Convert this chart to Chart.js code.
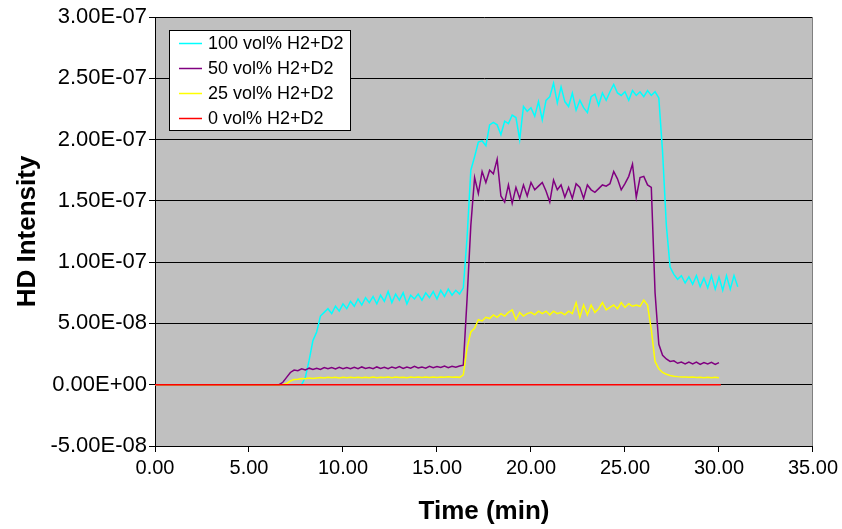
<!DOCTYPE html>
<html>
<head>
<meta charset="utf-8">
<script src="https://cdn.jsdelivr.net/npm/chart.js@4.4.1/dist/chart.umd.min.js"></script>
<style>
  html, body { margin: 0; padding: 0; background: #ffffff; }
  #wrap { position: relative; width: 842px; height: 529px; }
</style>
</head>
<body>
<div id="wrap"><canvas id="c" width="842" height="529"></canvas></div>
<script>
// ---- DATA (time in minutes; intensities in units of 1E-08) ----
const timeMin = [0,
  6.6, 6.8, 7.0, 7.2, 7.4, 7.6, 7.8, 8.0, 8.2, 8.4,
  8.6, 8.8, 9.0, 9.2, 9.4, 9.6, 9.8, 10.0, 10.2, 10.4,
  10.6, 10.8, 11.0, 11.2, 11.4, 11.6, 11.8, 12.0, 12.2, 12.4,
  12.6, 12.8, 13.0, 13.2, 13.4, 13.6, 13.8, 14.0, 14.2, 14.4,
  14.6, 14.8, 15.0, 15.2, 15.4, 15.6, 15.8, 16.0, 16.2, 16.4,
  16.6, 16.8, 17.0, 17.2, 17.4, 17.6, 17.8, 18.0, 18.2, 18.4,
  18.6, 18.8, 19.0, 19.2, 19.4, 19.6, 19.8, 20.0, 20.2, 20.4,
  20.6, 20.8, 21.0, 21.2, 21.4, 21.6, 21.8, 22.0, 22.2, 22.4,
  22.6, 22.8, 23.0, 23.2, 23.4, 23.6, 23.8, 24.0, 24.2, 24.4,
  24.6, 24.8, 25.0, 25.2, 25.4, 25.6, 25.8, 26.0, 26.2, 26.4,
  26.6, 26.8, 27.0, 27.2, 27.4, 27.6, 27.8, 28.0, 28.2, 28.4,
  28.6, 28.8, 29.0, 29.2, 29.4, 29.6, 29.8, 30.0, 30.2, 30.4,
  30.6, 30.8, 31.0];

const hd100 = [0,
  0, 0, 0, 0, 0, 0, 0, 0.6, 2.0, 3.6,
  4.3, 5.6, 5.9, 6.2, 5.8, 6.4, 6.0, 6.6, 6.2, 6.8,
  6.4, 7.0, 6.5, 7.1, 6.7, 7.2, 6.6, 7.3, 6.8, 7.6,
  6.7, 7.4, 6.9, 7.5, 6.6, 7.3, 7.0, 7.4, 6.9, 7.5,
  7.1, 7.6, 7.0, 7.7, 7.2, 7.8, 7.3, 7.7, 7.4, 7.9,
  12.0, 17.5, 18.6, 19.8, 19.9, 19.5, 21.2, 21.4, 21.2, 20.4,
  21.5, 21.3, 22.0, 21.8, 20.0, 22.7, 22.3, 22.6, 21.9, 23.1,
  21.6, 23.2, 23.5, 24.6, 23.0, 24.3, 23.1, 22.7, 23.8, 22.4,
  23.2, 22.6, 22.2, 23.5, 23.7, 22.8, 23.8, 23.2, 23.9, 24.5,
  23.8, 23.6, 23.9, 23.2, 24.0, 23.6, 23.9, 23.5, 24.0, 23.6,
  23.9, 23.4, 19.0, 13.0, 9.6, 9.0, 8.6, 8.9, 8.3, 8.8,
  8.2, 8.9, 8.0, 8.7, 7.9, 8.9, 7.8, 8.8, 7.7, 8.9,
  7.8, 8.9, 8.0];

const hd50 = [0,
  0, 0.2, 0.6, 1.0, 1.2, 1.15, 1.3, 1.2, 1.35, 1.25,
  1.35, 1.25, 1.4, 1.3, 1.4, 1.28, 1.42, 1.3, 1.4, 1.3,
  1.42, 1.3, 1.45, 1.32, 1.4, 1.3, 1.45, 1.33, 1.42, 1.3,
  1.45, 1.35, 1.48, 1.32, 1.45, 1.35, 1.5, 1.36, 1.45, 1.35,
  1.5, 1.38, 1.48, 1.4, 1.52, 1.38, 1.5, 1.42, 1.52, 1.6,
  7.0, 13.0, 16.9, 15.6, 17.4, 16.5, 17.5, 17.2, 18.4, 15.4,
  14.9, 16.3, 14.8, 16.1, 15.2, 16.3, 15.4, 16.5, 15.9, 16.2,
  16.5, 15.8, 14.9, 16.7, 15.9, 16.3, 15.3, 16.1, 15.2, 16.4,
  16.1, 15.2, 16.3, 15.9, 15.7, 16.0, 16.3, 16.2, 16.4, 17.4,
  16.8, 15.9, 16.4, 17.0, 18.0, 15.3, 16.9, 17.0, 16.3, 16.1,
  7.5, 3.3, 2.4, 2.1, 1.9, 1.95, 1.75, 1.85, 1.7, 1.85,
  1.7, 1.85, 1.65, 1.8, 1.7, 1.82, 1.65, 1.8, null, null,
  null, null, null];

const hd25 = [0,
  0, 0, 0.1, 0.3, 0.42, 0.45, 0.5, 0.48, 0.55, 0.5,
  0.55, 0.58, 0.54, 0.6, 0.56, 0.6, 0.55, 0.6, 0.56, 0.6,
  0.57, 0.61, 0.56, 0.6, 0.57, 0.62, 0.57, 0.61, 0.58, 0.62,
  0.57, 0.62, 0.58, 0.61, 0.57, 0.62, 0.58, 0.63, 0.58, 0.62,
  0.59, 0.63, 0.58, 0.62, 0.6, 0.64, 0.6, 0.63, 0.6, 0.8,
  3.0, 4.3, 4.6, 5.3, 5.2, 5.5, 5.4, 5.7, 5.5, 5.8,
  5.6, 5.9, 6.1, 5.3, 5.9, 5.6, 5.8, 5.9, 5.7, 6.0,
  5.8, 6.0, 5.7, 6.0, 5.8, 5.9, 5.7, 6.0, 5.8, 6.7,
  5.5, 6.5, 5.7, 6.5, 5.9, 6.2, 6.7, 6.1, 6.3, 6.5,
  6.2, 6.7, 6.3, 6.6, 6.4, 6.5, 6.4, 6.9, 6.5, 4.5,
  1.9, 1.3, 1.0, 0.85, 0.75, 0.7, 0.66, 0.63, 0.62, 0.6,
  0.62, 0.58, 0.61, 0.57, 0.6, 0.56, 0.6, 0.57, null, null,
  null, null, null];

const hd0Time = [0, 30.1];
const hd0 = [0, 0];

const seriesLabels = ['100 vol% H2+D2', '50 vol% H2+D2', '25 vol% H2+D2', '0 vol% H2+D2'];
const seriesColors = ['#00FFFF', '#800080', '#FFFF00', '#FF0000'];

const xTickValues = [0, 5, 10, 15, 20, 25, 30, 35];
const yTickValuesE8 = [-5, 0, 5, 10, 15, 20, 25, 30];

// ---- helpers ----
function pts(ts, vs) { return ts.map((t, i) => ({ x: t, y: vs[i] })); }
function fmtE(vE8) {
  const v = vE8 * 1e-8;
  const s = v.toExponential(2).split('e');
  const sign = s[1][0] === '-' ? '-' : '+';
  const digits = s[1].replace(/^[+-]/, '').padStart(2, '0');
  return s[0] + 'E' + sign + digits;
}

const FONT = "'Liberation Sans', Arial, sans-serif";

const plotBg = {
  id: 'plotBg',
  beforeDraw(chart) {
    const { ctx, chartArea: a } = chart;
    ctx.save();
    ctx.fillStyle = '#C0C0C0';
    ctx.fillRect(a.left, a.top, a.right - a.left, a.bottom - a.top);
    ctx.restore();
  },
  beforeDatasetsDraw(chart) {
    const { ctx, chartArea: a } = chart;
    ctx.save();
    ctx.strokeStyle = '#808080';
    ctx.lineWidth = 1;
    ctx.beginPath();
    ctx.moveTo(Math.round(a.right) - 0.5, a.top);
    ctx.lineTo(Math.round(a.right) - 0.5, a.bottom);
    ctx.stroke();
    ctx.restore();
  }
};

const boxLegend = {
  id: 'boxLegend',
  afterDraw(chart) {
    const { ctx } = chart;
    ctx.save();
    ctx.fillStyle = '#ffffff';
    ctx.fillRect(169.5, 30.5, 181, 100);
    ctx.strokeStyle = '#000000';
    ctx.lineWidth = 1;
    ctx.strokeRect(169.5, 30.5, 181, 100);
    ctx.font = '18px ' + FONT;
    ctx.textBaseline = 'middle';
    ctx.textAlign = 'left';
    seriesLabels.forEach((lab, i) => {
      const y = 43 + i * 25;
      ctx.strokeStyle = seriesColors[i];
      ctx.lineWidth = 1.5;
      ctx.beginPath();
      ctx.moveTo(179, y + 0.5);
      ctx.lineTo(202, y + 0.5);
      ctx.stroke();
      ctx.fillStyle = '#000000';
      ctx.fillText(lab, 208, y + 1);
    });
    ctx.restore();
  }
};

new Chart(document.getElementById('c'), {
  type: 'line',
  data: {
    datasets: [
      { label: seriesLabels[0], data: pts(timeMin, hd100), borderColor: seriesColors[0], order: 3 },
      { label: seriesLabels[1], data: pts(timeMin, hd50), borderColor: seriesColors[1], order: 2 },
      { label: seriesLabels[2], data: pts(timeMin, hd25), borderColor: seriesColors[2], order: 1 },
      { label: seriesLabels[3], data: pts(hd0Time, hd0), borderColor: seriesColors[3], order: 0 }
    ]
  },
  options: {
    responsive: false,
    animation: false,
    layout: { padding: { top: 17, right: 27, left: 0, bottom: 0 } },
    elements: {
      point: { radius: 0, hoverRadius: 0 },
      line: { borderWidth: 1.5, tension: 0, fill: false }
    },
    plugins: { legend: { display: false }, tooltip: { enabled: false } },
    scales: {
      x: {
        type: 'linear', min: 0, max: 35,
        afterBuildTicks(s) { s.ticks = xTickValues.map(v => ({ value: v })); },
        afterFit(s) { s.height = 83; },
        ticks: {
          callback: v => Number(v).toFixed(2),
          color: '#000', font: { family: FONT, size: 20 }, padding: 4, maxRotation: 0, autoSkip: false
        },
        grid: { drawOnChartArea: false, drawTicks: true, tickLength: 6, color: '#000', lineWidth: 1 },
        border: { display: true, color: '#000', width: 1 },
        title: {
          display: true, text: 'Time (min)', color: '#000',
          font: { family: FONT, size: 26, weight: 'bold' }, padding: { top: 0, bottom: 2 }
        }
      },
      y: {
        type: 'linear', min: -5, max: 30,
        afterBuildTicks(s) { s.ticks = yTickValuesE8.map(v => ({ value: v })); },
        afterFit(s) { s.width = 155; },
        ticks: {
          callback: v => fmtE(v),
          color: '#000', font: { family: FONT, size: 22 }, padding: 2, autoSkip: false
        },
        grid: { drawOnChartArea: true, drawTicks: true, tickLength: 6, color: '#000', lineWidth: 1 },
        border: { display: true, color: '#000', width: 1 },
        title: {
          display: true, text: 'HD Intensity', color: '#000',
          font: { family: FONT, size: 26, weight: 'bold' }, padding: { top: 12, bottom: 0 }
        }
      }
    }
  },
  plugins: [plotBg, boxLegend]
});
</script>
</body>
</html>
